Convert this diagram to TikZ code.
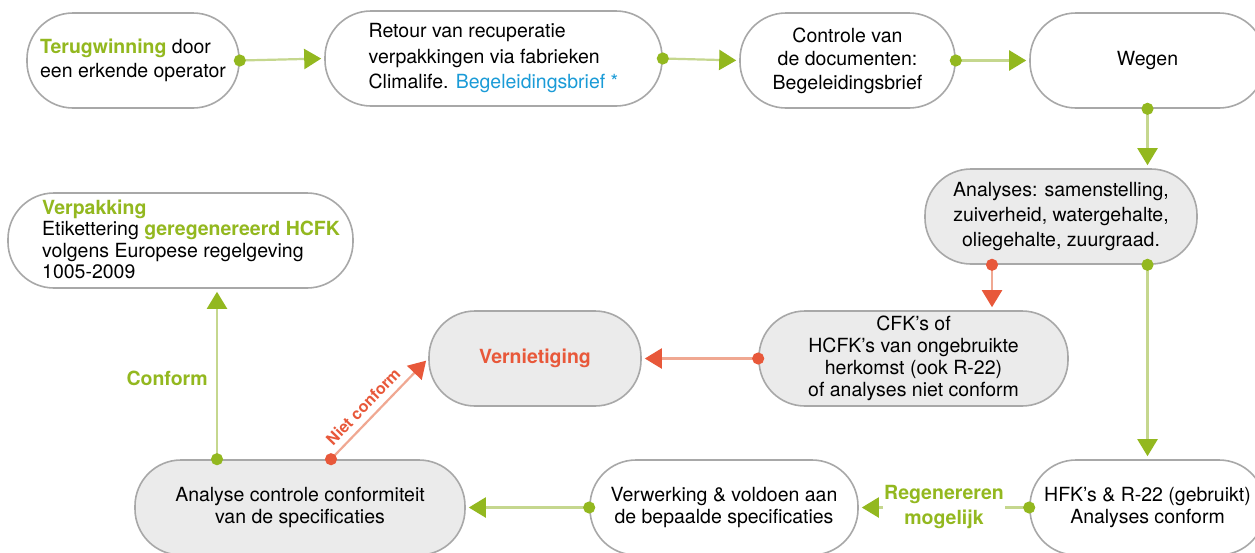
\documentclass[tikz,border=0pt]{standalone}
\usepackage{fontspec}
\setmainfont{TeX Gyre Heros}
\usetikzlibrary{arrows.meta,calc}
\definecolor{cgreen}{HTML}{93B81F}
\definecolor{cgline}{HTML}{C5D78E}
\definecolor{cred}{HTML}{E8583A}
\definecolor{crline}{HTML}{F0A892}
\definecolor{cblue}{HTML}{1A9BD7}
\definecolor{cfill}{HTML}{EBEBEB}
\definecolor{cborder}{HTML}{A8A8A8}
\begin{document}
\begin{tikzpicture}[x=1pt,y=-1pt,
  box/.style={draw=cborder, line width=1.6pt, fill=white, rounded corners=46pt,
    minimum height=95pt, inner sep=0pt, font=\fontsize{19.5}{24.5}\selectfont, align=center},
  graybox/.style={box, fill=cfill},
  garrow/.style={draw=cgline, line width=2.2pt, shorten <=-6pt, shorten >=3pt,
    {Circle[length=12pt,color=cgreen]}-{Triangle[length=17pt,width=20pt,color=cgreen]}},
  rarrow/.style={draw=crline, line width=2.2pt, shorten <=-6pt, shorten >=3pt,
    {Circle[length=12pt,color=cred]}-{Triangle[length=17pt,width=20pt,color=cred]}},
  lbl/.style={font=\fontsize{19.5}{25}\selectfont\bfseries}
]
\useasboundingbox (0,0) rectangle (1255,552);
\fill[white] (0,0) rectangle (1255,552);

% nodes
\node[box, minimum width=212pt, align=left] (n1) at (133,60.5)
  {\textcolor{cgreen}{\bfseries Terugwinning} door\\een erkende operator};
\node[box, minimum width=337pt, align=left, font=\fontsize{19.5}{25.5}\selectfont] (n2) at (493.5,58.5)
  {Retour van recuperatie\\verpakkingen via fabrieken\\Climalife. \textcolor{cblue}{Begeleidingsbrief *}};
\node[box, minimum width=215pt, font=\fontsize{19.5}{23.5}\selectfont] (n3) at (847.5,60.5)
  {Controle van\\de documenten:\\Begeleidingsbrief};
\node[box, minimum width=235pt] (n4) at (1147.5,60.5) {Wegen};
\node[graybox, minimum width=272pt, font=\fontsize{19.5}{25}\selectfont] (n5) at (1061,216.5)
  {Analyses: samenstelling,\\zuiverheid, watergehalte,\\oliegehalte, zuurgraad.};
\node[graybox, minimum width=309pt, font=\fontsize{19.5}{22}\selectfont] (n6) at (913.5,358.5)
  {CFK’s of\\HCFK’s van ongebruikte\\herkomst (ook R-22)\\of analyses niet conform};
\node[graybox, minimum width=212pt, text=cred, font=\fontsize{19.5}{24}\selectfont\bfseries] (n7) at (535,358.5)
  {Vernietiging};
\node[box, minimum width=345pt] (n8) at (180.5,240.5) {};
\node[anchor=west, align=left, inner sep=0pt, font=\fontsize{19.5}{21.3}\selectfont] (n8t) at (42,239.5)
  {\textcolor{cgreen}{\bfseries Verpakking}\\Etikettering \textcolor{cgreen}{\bfseries geregenereerd HCFK}\\volgens Europese regelgeving\\1005-2009};
\node[graybox, minimum width=330pt, font=\fontsize{19.5}{22}\selectfont] (n9) at (300,507.5)
  {Analyse controle conformiteit\\van de specificaties};
\node[box, minimum width=268pt, font=\fontsize{19.5}{22}\selectfont] (n10) at (724,507.5)
  {Verwerking \& voldoen aan\\de bepaalde specificaties};
\node[box, minimum width=235pt, font=\fontsize{19.5}{22}\selectfont] (n11) at (1147.5,507.5)
  {HFK’s \& R-22 (gebruikt)\\Analyses conform};

% connectors
\draw[garrow] (n1.east) -- (n2.west);
\draw[garrow] (n2.east) -- (n3.west);
\draw[garrow] (n3.east) -- (n4.west);
\draw[garrow] (n4.south) -- (n5.north -| n4.south);
\coordinate (r5) at ([xshift=-69pt]n5.south);
\draw[rarrow] (r5) -- (r5 |- n6.north);
\draw[garrow] (n5.south -| n11.north) -- (n11.north);
\draw[rarrow] (n6.west) -- (n7.east);
\draw[garrow] (n11.west) -- node[lbl, fill=white, text=cgreen, align=center, inner sep=1pt]
  {Regenereren\\mogelijk} (n10.east);
\draw[garrow] (n10.west) -- (n9.east);
\coordinate (g9) at ([xshift=-83pt]n9.north);
\draw[garrow] (g9) -- node[lbl, left, text=cgreen, xshift=-5pt, yshift=-4pt] {Conform} (g9 |- n8.south);
\coordinate (r9) at ([xshift=31pt]n9.north);
\draw[rarrow] (r9) -- node[sloped, above=3pt, pos=0.43, text=cred, font=\fontsize{16}{18}\selectfont\bfseries]
  {Niet conform} (n7.west);
\end{tikzpicture}
\end{document}
